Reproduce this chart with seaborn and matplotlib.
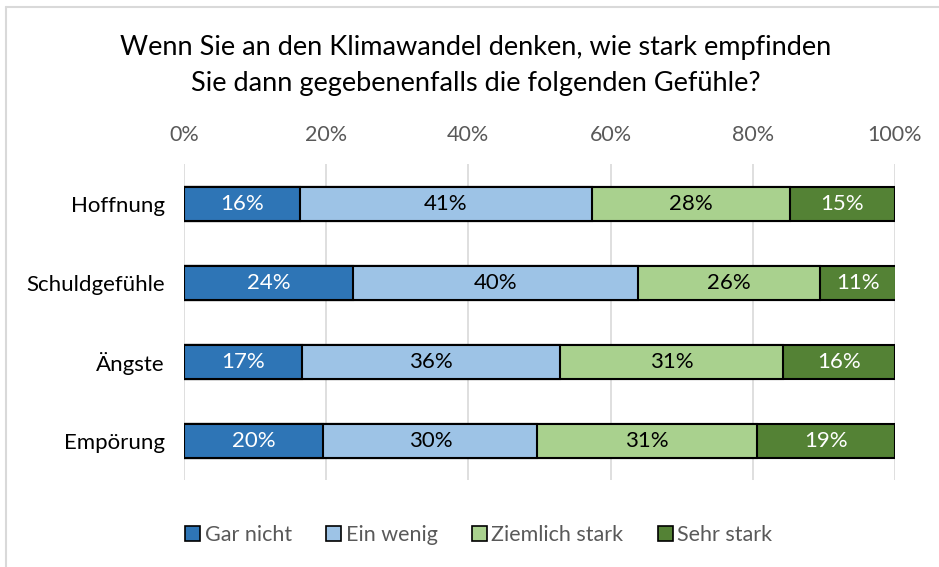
import matplotlib
matplotlib.use("Agg")
import matplotlib.pyplot as plt
from matplotlib.lines import Line2D
from matplotlib.patches import Patch
import seaborn as sns
import pandas as pd
import numpy as np

categories = ["Hoffnung", "Schuldgefühle", "Ängste", "Empörung"]
series = ["Gar nicht", "Ein wenig", "Ziemlich stark", "Sehr stark"]
gar_nicht = [16.3, 23.8, 16.6, 19.6]
ein_wenig = [41.1, 40.1, 36.3, 30.1]
ziemlich_stark = [27.8, 25.6, 31.4, 30.9]
sehr_stark = [14.8, 10.6, 15.7, 19.4]
colors = ["#2E75B6", "#9DC3E6", "#A9D18E", "#548235"]
text_colors = ["white", "black", "black", "white"]
x_ticks = [0, 20, 40, 60, 80, 100]

sns.set_theme(style="white")
plt.rcParams["font.family"] = ["Lato", "DejaVu Sans"]

df = pd.DataFrame({"Kategorie": categories, "Gar nicht": gar_nicht,
                   "Ein wenig": ein_wenig, "Ziemlich stark": ziemlich_stark,
                   "Sehr stark": sehr_stark})
vals = df[series].to_numpy()
cum = np.cumsum(vals, axis=1)

fig = plt.figure(figsize=(9.39, 5.67), dpi=100)
ax = fig.add_axes([0.196, 0.1526, 0.757, 0.558])

for x in x_ticks:
    ax.axvline(x, color="#D9D9D9", lw=1.2, zorder=0)

# draw cumulative totals from the largest down so segments stack
for i in reversed(range(len(series))):
    sns.barplot(x=cum[:, i], y=df["Kategorie"], orient="h", color=colors[i],
                width=0.43, edgecolor="black", linewidth=1.5, ax=ax,
                saturation=1, zorder=2)

for r in range(len(categories)):
    left = 0
    for i in range(len(series)):
        v = vals[r, i]
        ax.text(left + v / 2, r, f"{v:.0f}%", ha="center", va="center",
                color=text_colors[i], fontsize=16, zorder=3)
        left += v

ax.set_xlim(0, 100)
ax.set_ylim(3.5, -0.5)
ax.xaxis.tick_top()
ax.set_xticks(x_ticks)
ax.set_xticklabels([f"{x}%" for x in x_ticks], color="#595959", fontsize=15.5)
ax.tick_params(axis="x", length=0, pad=14)
ax.tick_params(axis="y", length=0, pad=14, labelsize=16, labelcolor="black")
ax.set_xlabel("")
ax.set_ylabel("")
for s in ax.spines.values():
    s.set_visible(False)

fig.text(0.507, 0.885, "Wenn Sie an den Klimawandel denken, wie stark empfinden\n"
         "Sie dann gegebenenfalls die folgenden Gefühle?",
         ha="center", va="center", fontsize=19.5, linespacing=1.55, color="black")

handles = [Patch(facecolor=c, edgecolor="black", linewidth=1.2) for c in colors]
leg = fig.legend(handles, series, loc="center", bbox_to_anchor=(0.51, 0.057),
                 ncol=4, frameon=False, fontsize=15.5, handlelength=0.7,
                 handleheight=0.7, handletextpad=0.2, columnspacing=1.6)
for t in leg.get_texts():
    t.set_color("#595959")

fig.add_artist(Line2D([6 / 939, 6 / 939], [0, 1 - 7 / 567], color="#D9D9D9", lw=1.5))
fig.add_artist(Line2D([6 / 939, 1], [1 - 7 / 567, 1 - 7 / 567], color="#D9D9D9", lw=1.5))

fig.savefig("out.png", dpi=100)
